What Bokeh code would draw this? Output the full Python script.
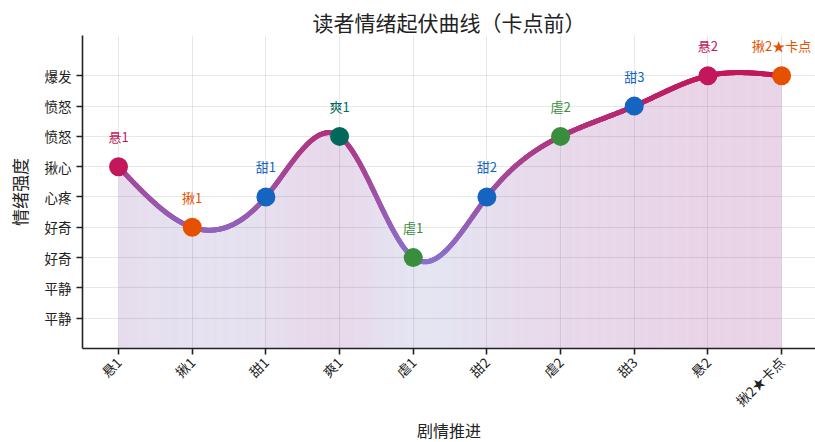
import numpy as np
from bokeh.plotting import figure
from bokeh.models import Range1d, FixedTicker, ColumnDataSource, LabelSet
from bokeh.embed import file_html
from bokeh.resources import INLINE
from bokeh.core.properties import value

# ---- data ----
stages = ["悬1", "揪1", "甜1", "爽1", "虐1", "甜2", "虐2", "甜3", "悬2", "揪2★卡点"]
intensity = [6, 4, 5, 7, 3, 5, 7, 8, 9, 9]
kinds = ["悬", "揪", "甜", "爽", "虐", "甜", "虐", "甜", "悬", "揪"]
y_tick_values = [1, 2, 3, 4, 5, 6, 7, 8, 9]
y_tick_labels = ["平静", "平静", "好奇", "好奇", "心疼", "揪心", "愤怒", "愤怒", "爆发"]
kind_colors = {"悬": "#C2185B", "揪": "#E65100", "甜": "#1565C0",
               "爽": "#00695C", "虐": "#388E3C"}

FONT = "Noto Sans CJK SC"


def natural_spline(x, y, xs):
    x = np.asarray(x, float); y = np.asarray(y, float)
    n = len(x); h = np.diff(x)
    A = np.zeros((n, n)); r = np.zeros(n)
    A[0, 0] = 1; A[-1, -1] = 1
    for i in range(1, n - 1):
        A[i, i - 1] = h[i - 1]; A[i, i] = 2 * (h[i - 1] + h[i]); A[i, i + 1] = h[i]
        r[i] = 3 * ((y[i + 1] - y[i]) / h[i] - (y[i] - y[i - 1]) / h[i - 1])
    c = np.linalg.solve(A, r)
    b = (y[1:] - y[:-1]) / h - h * (2 * c[:-1] + c[1:]) / 3
    d = (c[1:] - c[:-1]) / (3 * h)
    idx = np.clip(np.searchsorted(x, xs, side="right") - 1, 0, n - 2)
    t = xs - x[idx]
    return y[idx] + b[idx] * t + c[idx] * t ** 2 + d[idx] * t ** 3


def lerp_hex(c1, c2, f):
    a = [int(c1[i:i + 2], 16) for i in (1, 3, 5)]
    b = [int(c2[i:i + 2], 16) for i in (1, 3, 5)]
    return "#%02x%02x%02x" % tuple(int(round(a[k] + (b[k] - a[k]) * f)) for k in range(3))


xpos = np.arange(len(stages), dtype=float)
xs = np.linspace(0, len(stages) - 1, 600)
ys = natural_spline(xpos, intensity, xs)

lo, hi = min(intensity), max(intensity)
ym = (ys[:-1] + ys[1:]) / 2
fr = np.clip((ym - lo) / (hi - lo), 0, 1)
line_cols = [lerp_hex("#8A70CC", "#C2185B", f) for f in fr]
fill_cols = [lerp_hex("#7878BE", "#912387", f) for f in fr]

p = figure(frame_width=733, frame_height=313, output_backend="svg", toolbar_location=None,
           x_range=Range1d(-0.489, 9.46), y_range=Range1d(0, 10.33),
           min_border_left=82, min_border_right=0, min_border_top=35, min_border_bottom=60)
p.outline_line_color = None
p.title.text = "读者情绪起伏曲线（卡点前）"
p.title.align = "center"
p.title.text_font = FONT
p.title.text_font_size = "21px"
p.title.text_font_style = "normal"
p.title.text_color = "#222222"
p.title.standoff = -3

# fill under curve (gradient by height)
fill_xs = [[xs[i], xs[i + 1], xs[i + 1], xs[i]] for i in range(len(xs) - 1)]
fill_ys = [[0, 0, ys[i + 1], ys[i]] for i in range(len(xs) - 1)]
p.patches(fill_xs, fill_ys, fill_color=fill_cols, fill_alpha=0.2, line_alpha=0, line_width=0)

# gradient curve
p.segment(x0=xs[:-1], y0=ys[:-1], x1=xs[1:], y1=ys[1:], line_color=line_cols,
          line_width=5, line_cap="round")

colors = [kind_colors[k] for k in kinds]
src = ColumnDataSource(dict(x=xpos, y=intensity, c=colors, t=stages))
p.scatter("x", "y", source=src, size=19, fill_color="c", line_color="c", line_width=0)
labels = LabelSet(x="x", y="y", text="t", source=src, text_color="c", text_font=value(FONT),
                  text_font_size="13px", text_align="center", text_baseline="middle",
                  y_offset=30)
p.add_layout(labels)

# axes
p.xaxis.ticker = FixedTicker(ticks=list(xpos))
p.xaxis.major_label_overrides = {i: s for i, s in enumerate(stages)}
p.xaxis.major_label_orientation = np.pi / 4
p.yaxis.ticker = FixedTicker(ticks=y_tick_values)
p.yaxis.major_label_overrides = {v: s for v, s in zip(y_tick_values, y_tick_labels)}
p.xaxis.axis_label = "剧情推进"
p.yaxis.axis_label = "情绪强度"
for ax in (p.xaxis, p.yaxis):
    ax.axis_line_width = 1.6
    ax.axis_line_color = "#222222"
    ax.major_tick_line_color = "#222222"
    ax.major_tick_line_width = 1.6
    ax.major_tick_in = 0
    ax.major_tick_out = 6
    ax.minor_tick_line_color = None
    ax.major_label_text_font = FONT
    ax.major_label_text_font_size = "13.5px"
    ax.major_label_text_color = "#222222"
    ax.axis_label_text_font = FONT
    ax.axis_label_text_font_size = "16px"
    ax.axis_label_text_font_style = "normal"
    ax.axis_label_text_color = "#222222"
p.yaxis.axis_label_text_font_size = "17px"
p.yaxis.axis_label_standoff = 10
p.xaxis.axis_label_standoff = -2

p.grid.grid_line_color = "#bbbbbb"
p.grid.grid_line_alpha = 0.35
p.grid.grid_line_width = 1

open("out.html", "w").write(file_html(p, INLINE))
